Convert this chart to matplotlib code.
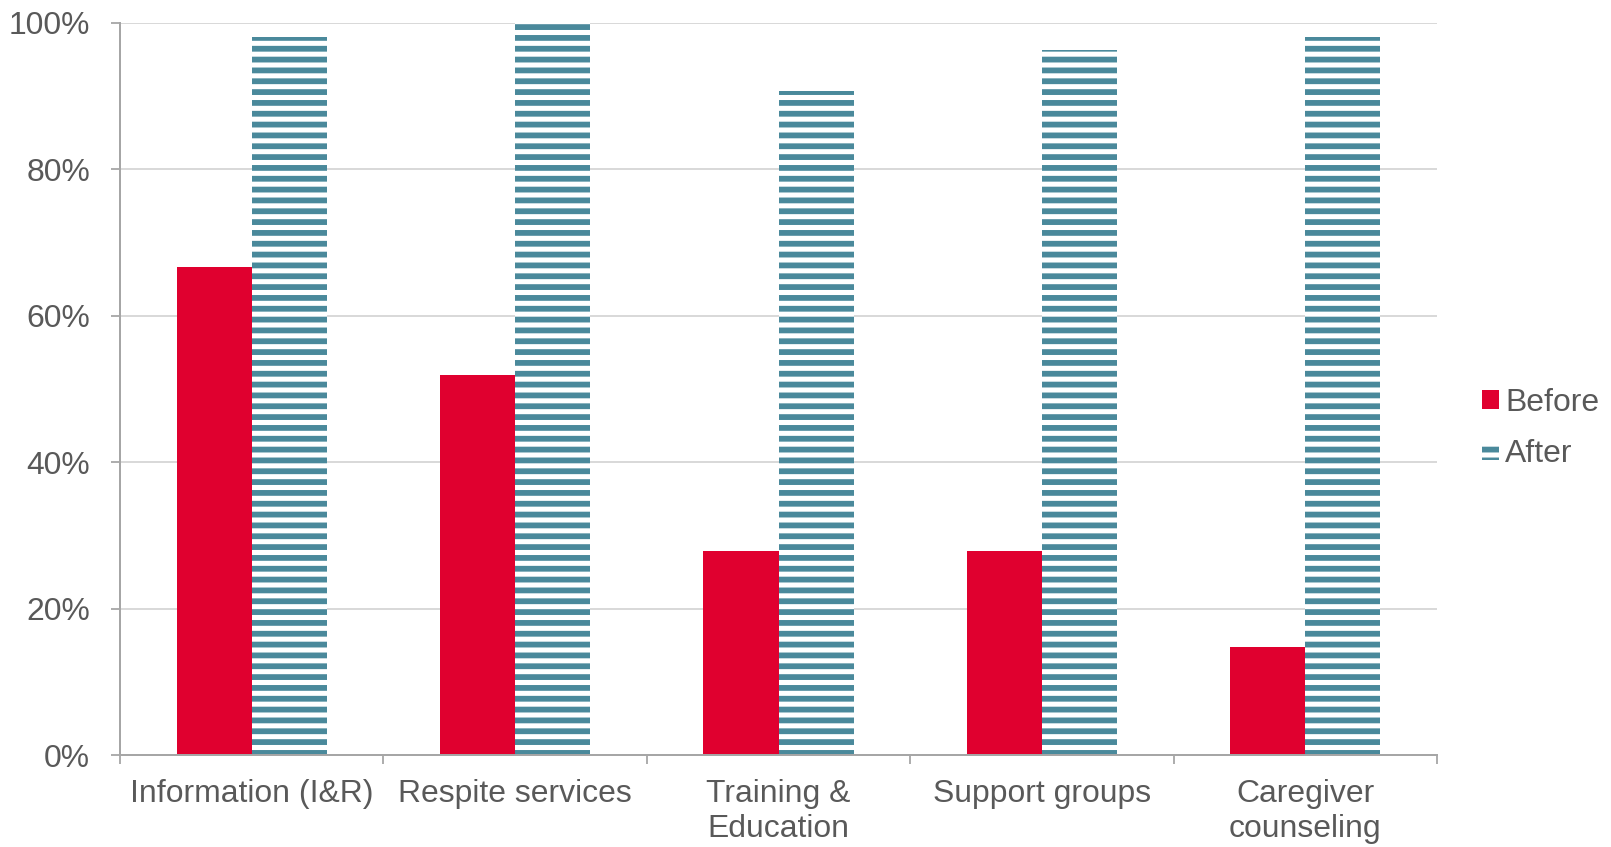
import matplotlib
matplotlib.use("Agg")
import matplotlib.pyplot as plt
import numpy as np
from matplotlib.ticker import FixedLocator, PercentFormatter

categories = ["Information (I&R)", "Respite services", "Training &\nEducation",
              "Support groups", "Caregiver\ncounseling"]
before = [66.7, 51.9, 27.8, 27.8, 14.8]
after = [98.1, 100.0, 90.7, 96.3, 98.1]
series_labels = ["Before", "After"]

RED = "#E0002F"
TEAL = "#4A899B"
TEXT = "#595959"
GRID = "#D9D9D9"
AXIS = "#A6A6A6"

DPI = 130
plt.rcParams["font.family"] = ["Liberation Sans", "DejaVu Sans"]
plt.rcParams["hatch.linewidth"] = 3.2
plt.rcParams["hatch.color"] = TEAL

fig = plt.figure(figsize=(1611 / DPI, 847 / DPI), dpi=DPI)
ax = fig.add_axes([0.0745, 0.1086, 0.8175, 0.8647])

x = np.arange(len(categories))
w = 0.285
ax.bar(x - w / 2, before, w, color=RED, linewidth=0, label=series_labels[0], zorder=3)
ax.bar(x + w / 2, after, w, facecolor="white", edgecolor=TEAL, hatch="--",
       linewidth=0, label=series_labels[1], zorder=3)

ax.set_xlim(-0.5, len(categories) - 0.5)
ax.set_ylim(0, 100)
ax.yaxis.set_major_locator(FixedLocator(np.arange(0, 101, 20)))
ax.yaxis.set_major_formatter(PercentFormatter(decimals=0))
ax.set_xticks(x)
ax.set_xticklabels(categories, linespacing=1.2)
ax.xaxis.set_minor_locator(FixedLocator(np.arange(-0.5, len(categories), 1.0)))

fs = 17.7
ax.tick_params(axis="x", which="major", length=0, pad=13.5, labelsize=fs, labelcolor=TEXT)
ax.tick_params(axis="x", which="minor", length=5, width=1.0, color=AXIS, direction="out")
ax.tick_params(axis="y", which="major", length=5, width=1.0, color=AXIS, pad=11.5,
               labelsize=fs, labelcolor=TEXT)

ax.grid(axis="y", color=GRID, linewidth=1.1, zorder=0)
ax.set_axisbelow(True)
for side in ("top", "right"):
    ax.spines[side].set_visible(False)
for side in ("left", "bottom"):
    ax.spines[side].set_color(AXIS)
    ax.spines[side].set_linewidth(1.1)
    ax.spines[side].set_zorder(4)

leg = fig.legend(loc="center left", bbox_to_anchor=(0.920, 0.494), frameon=False,
                 fontsize=fs, handlelength=0.52, handleheight=0.52, handletextpad=0.2,
                 labelspacing=0.68, borderpad=0, borderaxespad=0)
for t in leg.get_texts():
    t.set_color(TEXT)

fig.savefig("out.png", dpi=DPI)
